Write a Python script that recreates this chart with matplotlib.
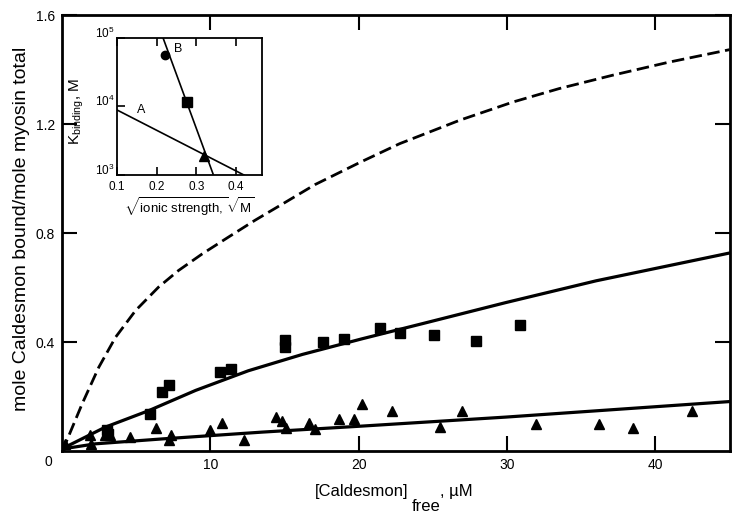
import matplotlib
matplotlib.use('Agg')
import matplotlib.pyplot as plt
from matplotlib.ticker import NullLocator

plt.rcParams['font.family'] = ['Liberation Sans', 'DejaVu Sans']
plt.rcParams['mathtext.fontset'] = 'custom'
plt.rcParams['mathtext.rm'] = 'Liberation Sans'
plt.rcParams['mathtext.it'] = 'Liberation Sans:italic'

# Main panel: [Caldesmon]free (uM) vs mole bound / mole myosin
sqX = [3.0, 3.1, 5.95, 6.7, 7.2, 10.65, 11.4, 15.0, 15.0, 17.6, 19.0, 21.45,
       22.75, 25.1, 27.9, 30.9]
sqY = [0.078, 0.062, 0.137, 0.217, 0.244, 0.290, 0.300, 0.408, 0.383,
       0.402, 0.412, 0.453, 0.433, 0.426, 0.404, 0.464]

triX = [0.2, 1.9, 1.95, 2.9, 3.25, 4.6, 6.3, 7.2, 7.35, 10.0, 10.75, 12.25,
        14.4, 14.85, 15.1, 16.65, 17.05, 18.65, 19.65, 20.2, 22.25, 25.45,
        26.95, 31.95, 36.2, 38.5, 42.45]
triY = [0.025, 0.058, 0.028, 0.058, 0.058, 0.052, 0.085, 0.042, 0.061,
        0.076, 0.104, 0.042, 0.126, 0.111, 0.086, 0.103, 0.080, 0.117,
        0.119, 0.174, 0.147, 0.089, 0.149, 0.098, 0.098, 0.085, 0.147]

dashX = [0, 0.22, 1.35, 2.47, 3.6, 4.95, 6.5, 7.85, 9.45, 11.2, 13.0, 14.8,
         17.05, 20.1, 22.75, 26.8, 30.4, 33.5, 37.1, 40.9, 45.0]
dashY = [0, 0.027, 0.174, 0.308, 0.418, 0.516, 0.602, 0.663, 0.724, 0.785,
         0.847, 0.905, 0.978, 1.060, 1.128, 1.214, 1.281, 1.330, 1.379,
         1.427, 1.473]

midX = [0, 0.22, 2.9, 5.85, 9.0, 12.55, 16.2, 20.2, 24.3, 29.9, 36.0, 45.0]
midY = [0, 0.015, 0.088, 0.149, 0.223, 0.295, 0.355, 0.412, 0.468, 0.545,
        0.625, 0.727]

lowX = [0, 0.22, 2.25, 6.75, 13.5, 20.2, 29.9, 45.0]
lowY = [0, 0.010, 0.027, 0.045, 0.070, 0.092, 0.125, 0.182]

xTicks = [10, 20, 30, 40]
yTicks = [0.4, 0.8, 1.2, 1.6]

# Inset: K binding vs sqrt(ionic strength)
lineAX = [0.10, 0.42]
lineAY = [8.9e3, 1.0e3]
lineBX = [0.216, 0.343]
lineBY = [1.0e5, 1.0e3]
circX, circY = [0.222], [5.6e4]
boxX, boxY = [0.277], [1.17e4]
trX, trY = [0.32], [1.9e3]
insetXTicks = [0.1, 0.2, 0.3, 0.4]
insetYTicks = [1e3, 1e4, 1e5]
insetYLabels = ['$10^3$', '$10^4$', '$10^5$']

fig = plt.figure(figsize=(7.4, 5.18), dpi=100)
ax = fig.add_axes([0.084, 0.129, 0.902, 0.842])

ax.plot(dashX, dashY, color='black', lw=2.0, ls=(0, (4.5, 2)))
ax.plot(midX, midY, color='black', lw=2.3)
ax.plot(lowX, lowY, color='black', lw=2.3)
ax.plot(sqX, sqY, ls='none', marker='s', ms=7.5, color='black')
ax.plot(triX, triY, ls='none', marker='^', ms=7, color='black')

ax.set_xlim(0, 45)
ax.set_ylim(0, 1.6)
ax.set_xticks(xTicks)
ax.set_xticklabels([str(t) for t in xTicks])
ax.set_yticks(yTicks)
ax.set_yticklabels(['%.1f' % t for t in yTicks])
ax.tick_params(direction='in', top=True, right=True, length=11, width=1.5,
               labelsize=10, pad=5)
for s in ax.spines.values():
    s.set_linewidth(2)

ax.annotate('0', xy=(0, 0), xycoords='data', xytext=(-10, -8),
            textcoords='offset points', ha='center', va='center', fontsize=10)

ax.set_ylabel('mole Caldesmon bound/mole myosin total', fontsize=14)
ax.yaxis.set_label_coords(-0.048, 0.51)

capText = ax.annotate('[Caldesmon]', xy=(0.449, 0), xycoords='axes fraction',
                      xytext=(0, -29), textcoords='offset points',
                      ha='center', va='center', fontsize=12)
freeText = ax.annotate('free', xy=(1, 0.5), xycoords=capText,
                       xytext=(2, -11), textcoords='offset points',
                       ha='left', va='center', fontsize=12)
ax.annotate(', \u00b5M', xy=(1, 0.5), xycoords=(freeText, capText),
            xytext=(0, 0), textcoords='offset points',
            ha='left', va='center', fontsize=12)

ins = fig.add_axes([0.158, 0.662, 0.196, 0.265])
ins.plot(lineAX, lineAY, color='black', lw=1.2)
ins.plot(lineBX, lineBY, color='black', lw=1.2)
ins.plot(circX, circY, ls='none', marker='o', ms=6, color='black')
ins.plot(boxX, boxY, ls='none', marker='s', ms=6.5, color='black')
ins.plot(trX, trY, ls='none', marker='^', ms=6.5, color='black')
ins.set_yscale('log')
ins.set_xlim(0.1, 0.465)
ins.set_ylim(1e3, 1e5)
ins.set_xticks(insetXTicks)
ins.set_xticklabels([str(t) for t in insetXTicks])
ins.set_yticks(insetYTicks)
ins.set_yticklabels(insetYLabels)
ins.yaxis.set_minor_locator(NullLocator())
ins.tick_params(direction='in', top=True, length=6, width=1.2,
                labelsize=8.5, pad=2)
ins.tick_params(axis='x', pad=4)
for lab in ins.get_yticklabels():
    lab.set_va('baseline')
for s in ins.spines.values():
    s.set_linewidth(1.3)
ins.text(0.150, 9.0e3, 'A', fontsize=9, ha='left', va='center')
ins.text(0.243, 6.9e4, 'B', fontsize=9, ha='left', va='center')
ins.set_xlabel(r'$\sqrt{\mathregular{ionic\ strength,}}\sqrt{\mathregular{M}}$',
               fontsize=9.5, labelpad=2)
ins.set_ylabel(r'K$_{\mathregular{binding}}$, M', fontsize=11)
ins.yaxis.set_label_coords(-0.21, 0.46)

fig.savefig('out.png', dpi=100)
